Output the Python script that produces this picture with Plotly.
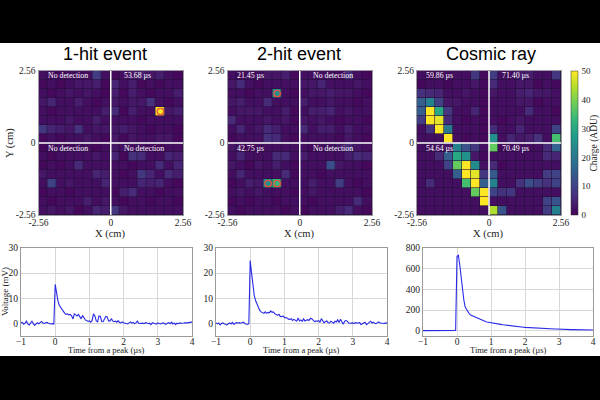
import numpy as np
import plotly.graph_objects as go

# Sixteen-by-sixteen pad charges in ADU, top row first
charge_one_hit = [
    [2, 2, 1, 2, 2, 2, 9, 2, 1, 2, 3, 4, 3, 4, 2, 1],
    [1, 2, 1, 2, 3, 3, 4, 1, 5, 2, 4, 1, 2, 1, 2, 2],
    [2, 1, 2, 3, 2, 3, 2, 1, 4, 1, 4, 2, 1, 2, 2, 4],
    [3, 5, 2, 2, 4, 2, 1, 2, 3, 2, 3, 3, 7, 2, 1, 2],
    [2, 1, 2, 2, 2, 2, 2, 4, 6, 1, 4, 2, 2, 50, 3, 4],
    [2, 2, 2, 3, 2, 2, 4, 2, 2, 2, 2, 1, 2, 2, 2, 2],
    [8, 5, 4, 3, 7, 2, 3, 3, 3, 4, 3, 2, 1, 2, 2, 1],
    [1, 2, 1, 2, 2, 3, 2, 1, 3, 1, 3, 2, 2, 3, 3, 1],
    [1, 2, 2, 1, 2, 2, 1, 2, 3, 2, 2, 2, 1, 1, 2, 2],
    [2, 1, 2, 2, 2, 2, 3, 2, 5, 1, 7, 6, 2, 2, 5, 4],
    [1, 2, 1, 2, 6, 2, 2, 2, 2, 2, 1, 2, 2, 6, 2, 5],
    [3, 2, 2, 2, 2, 2, 5, 4, 2, 1, 2, 8, 5, 2, 6, 4],
    [2, 10, 2, 3, 2, 2, 2, 5, 2, 2, 2, 5, 4, 5, 2, 1],
    [1, 2, 2, 1, 2, 2, 2, 2, 1, 4, 6, 2, 2, 1, 2, 2],
    [2, 1, 2, 2, 2, 4, 2, 3, 2, 1, 2, 2, 1, 2, 2, 1],
    [2, 3, 2, 3, 1, 2, 5, 4, 8, 3, 2, 2, 2, 2, 2, 2],
]
charge_two_hit = [
    [2, 1, 2, 2, 3, 3, 4, 1, 2, 2, 2, 2, 1, 6, 2, 1],
    [3, 6, 2, 1, 2, 2, 2, 2, 3, 3, 5, 2, 2, 2, 3, 2],
    [2, 2, 1, 2, 2, 25, 2, 1, 2, 3, 3, 4, 3, 3, 2, 1],
    [3, 4, 2, 2, 6, 2, 2, 2, 4, 2, 2, 3, 2, 2, 1, 2],
    [2, 3, 3, 3, 2, 2, 4, 1, 2, 4, 4, 5, 2, 3, 2, 2],
    [6, 2, 2, 2, 3, 2, 3, 1, 3, 2, 3, 2, 1, 2, 2, 1],
    [2, 5, 2, 3, 6, 4, 2, 2, 6, 2, 4, 4, 2, 4, 2, 2],
    [1, 2, 2, 2, 7, 6, 2, 1, 2, 2, 2, 2, 1, 3, 2, 1],
    [3, 2, 1, 2, 2, 2, 2, 2, 2, 1, 2, 2, 3, 6, 3, 2],
    [2, 5, 2, 2, 2, 6, 6, 2, 4, 2, 2, 2, 2, 4, 6, 5],
    [3, 2, 1, 3, 2, 4, 2, 1, 2, 2, 2, 12, 3, 2, 2, 1],
    [2, 5, 2, 2, 2, 2, 6, 1, 2, 2, 1, 2, 2, 2, 2, 2],
    [1, 2, 4, 3, 25, 33, 2, 2, 2, 4, 2, 2, 9, 2, 1, 2],
    [2, 3, 2, 3, 2, 2, 2, 1, 2, 3, 2, 2, 2, 2, 2, 1],
    [1, 2, 1, 2, 2, 1, 2, 2, 2, 1, 2, 2, 2, 2, 6, 2],
    [2, 1, 2, 2, 2, 2, 1, 2, 1, 2, 2, 2, 4, 6, 2, 1],
]
charge_cosmic = [
    [2, 1, 2, 2, 2, 2, 8, 1, 9, 2, 2, 4, 4, 2, 2, 8],
    [1, 2, 2, 1, 2, 2, 3, 1, 6, 2, 2, 3, 3, 1, 2, 1],
    [7, 6, 5, 2, 2, 3, 2, 1, 3, 2, 2, 4, 5, 3, 3, 2],
    [15, 22, 10, 3, 3, 2, 2, 1, 2, 2, 2, 3, 3, 1, 2, 2],
    [15, 50, 30, 8, 2, 2, 5, 1, 2, 2, 2, 2, 6, 2, 2, 1],
    [9, 50, 48, 6, 2, 1, 2, 1, 2, 1, 2, 3, 2, 2, 2, 2],
    [2, 7, 50, 20, 2, 2, 2, 1, 6, 2, 2, 5, 2, 2, 2, 10],
    [2, 2, 2, 50, 2, 1, 2, 1, 25, 2, 5, 3, 4, 7, 2, 35],
    [2, 2, 2, 3, 22, 13, 8, 2, 38, 1, 2, 2, 2, 2, 6, 16],
    [2, 2, 6, 15, 30, 25, 3, 1, 2, 2, 2, 2, 2, 2, 6, 5],
    [2, 2, 2, 10, 38, 50, 24, 2, 6, 1, 2, 2, 2, 2, 2, 2],
    [2, 2, 2, 2, 15, 50, 48, 8, 14, 2, 2, 2, 2, 2, 9, 10],
    [2, 6, 2, 2, 2, 35, 50, 15, 22, 2, 2, 7, 12, 9, 7, 10],
    [2, 2, 2, 2, 2, 2, 38, 50, 10, 7, 8, 2, 2, 2, 2, 2],
    [2, 2, 2, 2, 2, 2, 2, 50, 2, 2, 2, 2, 2, 2, 10, 13],
    [2, 2, 2, 2, 2, 2, 2, 2, 44, 13, 2, 2, 2, 2, 9, 22],
]

panel_titles = ["1-hit event", "2-hit event", "Cosmic ray"]
quadrant_labels = [
    ["No detection", "53.68 µs", "No detection", "No detection"],
    ["21.45 µs", "No detection", "42.75 µs", "No detection"],
    ["59.86 µs", "71.40 µs", "54.64 µs", "70.49 µs"],
]
hit_x = [[1.76], [-0.80], []]
hit_y = [[1.12], [1.76], []]
hit2_x = [-1.12, -0.80]
hit2_y = [-1.44, -1.44]

# Waveforms sampled every 0.04 µs; the "before" part ends just ahead of the peak
volt_before_1 = [0.2, 0.4, -0.3, 0.1, 0.9, -0.2, -0.6, 0.2, 0.9, -0.1, -0.8, -0.2, 0.3,
                 -0.1, 0.5, 0.8, 0.2, 0.0, 0.3, 0.4, 0.1, -0.1, -0.2, -0.1, -0.2]
volt_after_1 = [15.5, 12.0, 9.0, 7.2, 6.2, 5.3, 4.8, 4.0, 3.6, 3.8,
                3.4, 3.6, 3.0, 1.8, 3.8, 3.4, 3.0, 3.6, 2.4, 1.8,
                3.2, 2.4, 1.4, 1.2, 0.8, 1.0, 0.5, 1.2, 3.8, 3.0,
                1.0, 0.6, 3.0, 2.8, 0.8, 0.7, 1.6, 2.8, 2.6, 1.0,
                0.9, 1.9, 1.0, 0.7, 0.9, 0.5, 1.1, 0.4, 0.2, 0.6,
                0.3, 0.1, 0.0, -0.2, 0.2, 0.6, 0.1, 0.4, -0.1, 0.2,
                0.9, 0.1, 0.0, 0.2, 0.1, -0.1, 0.3, 0.2, -0.1, 0.1,
                -0.5, 0.3, 0.1, 0.2, -0.3, 0.2, 0.0, -0.2, 0.1, 0.2,
                -0.1, -0.4, 0.1, 0.3, -0.1, 0.5, -0.2, 0.2, -0.5, 0.1,
                -0.1, 0.2, 0.1, 0.0, 0.2, 0.3, 0.1, 0.4, 0.3, 0.6, 0.4]
volt_before_2 = [0.2, -0.2, 0.2, -0.6, 0.0, 0.2, -0.1, -0.3, -0.6, -0.1, 0.2, -0.2, 0.4,
                 -0.3, 0.1, 0.3, 0.2, 0.3, 0.1, 0.4, 0.5, 0.0, -0.2, -0.4, -0.1]
volt_after_2 = [25.0, 20.0, 15.0, 11.0, 9.0, 7.5, 6.2, 5.2, 4.6, 4.3,
                4.0, 4.6, 4.0, 4.4, 4.2, 5.0, 4.4, 4.6, 3.8, 3.6,
                3.2, 3.6, 2.8, 2.7, 3.0, 2.4, 2.3, 2.2, 1.7, 1.6,
                1.9, 1.2, 1.6, 1.2, 0.9, 2.2, 1.0, 1.4, 0.8, 1.8,
                1.0, 1.3, 1.5, 1.2, 2.0, 1.9, 1.4, 0.7, 1.0, 0.8,
                1.2, 0.4, 1.9, 1.0, 0.2, 0.8, 1.0, 0.3, 0.2, 0.9,
                0.4, 0.1, 0.9, 0.6, 1.4, 0.4, 1.7, 0.3, -0.3, 0.8,
                1.2, 0.8, 0.2, 0.1, 0.3, 0.2, -0.1, 0.4, 0.1, 0.2,
                0.3, -0.4, -0.2, 0.2, 0.5, -0.5, 0.1, 0.4, 0.9, 0.2,
                0.5, 0.1, -0.1, 0.3, 0.6, 0.2, 0.1, 0.3, 0.0, 0.2, 0.1]
volt_before_3 = [2, 2, 1, 2, 2, 1, 2, 2, 1, 2, 2, 1, 2,
                 2, 1, 2, 1, 2, 2, 1, 2, 2, 1, 2, 4]
volt_after_3 = [720, 730, 640, 520, 400, 300, 230, 205, 185, 165,
                152, 146, 138, 130, 124, 118, 112, 107, 102, 98,
                94, 90, 86, 83, 80, 78, 76, 73, 71, 69,
                67, 65, 62, 60, 58, 56, 54, 52, 50, 49,
                47, 45, 44, 42, 41, 40, 38, 37, 35, 34,
                33, 32, 30, 29, 28, 28, 27, 26, 26, 25,
                24, 24, 23, 22, 22, 21, 20, 20, 19, 19,
                18, 18, 17, 17, 16, 16, 15, 15, 14, 14,
                14, 13, 13, 13, 12, 12, 12, 11, 11, 11,
                11, 10, 10, 10, 10, 9, 9, 9, 9, 9, 8]

heat_x_ranges = [(38.5, 183), (227.5, 372), (417, 561)]
line_x_ranges = [(21, 192), (216, 387), (423, 593)]
title_centres = [104.5, 299, 491]
heat_y_range = (71, 215)
line_y_range = (248, 336)
CANVAS_W, CANVAS_H = 600, 400

SERIF = "Liberation Serif"
SANS = "Liberation Sans"
SPINE = "#9a9a9a"
INK = "#222"


def xdom(rng):
    return [rng[0] / CANVAS_W, rng[1] / CANVAS_W]


def ydom(rng):
    return [1 - rng[1] / CANVAS_H, 1 - rng[0] / CANVAS_H]


def paper_label(px, py, text, size, family=SERIF, angle=0, color=INK):
    return dict(xref="paper", yref="paper", x=px / CANVAS_W, y=1 - py / CANVAS_H,
                xanchor="center", yanchor="middle", text=text, showarrow=False,
                textangle=angle, font=dict(family=family, size=size, color=color))


edges = np.linspace(-2.56, 2.56, 17)
centres = (edges[:-1] + edges[1:]) / 2

fig = go.Figure()
charges = [charge_one_hit, charge_two_hit, charge_cosmic]
waves = [(volt_before_1, volt_after_1), (volt_before_2, volt_after_2), (volt_before_3, volt_after_3)]
annotations = [
    paper_label(10, 143, "Y (cm)", 10.5, angle=-90),
    paper_label(5, 292, "Voltage (mV)", 9, angle=-90),
    paper_label(594.5, 143, "Charge (ADU)", 9.5, angle=-90),
]
shapes = [dict(type="rect", xref="paper", yref="paper", x0=0, x1=1,
               y0=1 - 356 / CANVAS_H, y1=1 - 43 / CANVAS_H,
               fillcolor="white", line_width=0, layer="below")]
layout_axes = {}

for i in range(3):
    hx, hy = f"x{2 * i + 1}", f"y{2 * i + 1}"
    lx, ly = f"x{2 * i + 2}", f"y{2 * i + 2}"
    # Dark backing so the gaps between pads read as thin grid lines
    shapes.append(dict(type="rect", xref=hx, yref=hy, x0=-2.56, x1=2.56, y0=-2.56, y1=2.56,
                       fillcolor="#240f3c", line_width=0, layer="below"))
    fig.add_trace(go.Heatmap(
        z=charges[i], x=centres, y=centres[::-1], xaxis=hx, yaxis=hy,
        zmin=0, zmax=50, colorscale="Viridis", xgap=0.6, ygap=0.6,
        showscale=i == 2,
        colorbar=dict(
            x=571 / CANVAS_W, xanchor="left", xpad=0, ypad=0,
            y=1 - 215 / CANVAS_H, yanchor="bottom", len=144 / CANVAS_H, lenmode="fraction",
            thickness=7, outlinewidth=0.5, outlinecolor="#333",
            tickvals=[0, 10, 20, 30, 40, 50], ticks="outside", ticklen=2,
            tickcolor="rgba(0,0,0,0)", ticklabelposition="outside",
            tickfont=dict(family=SERIF, size=9, color=INK),
        ) if i == 2 else None,
    ))
    # White quadrant dividers
    fig.add_trace(go.Scatter(x=[0, 0], y=[-2.56, 2.56], mode="lines", xaxis=hx, yaxis=hy,
                             line=dict(color="white", width=1.5), showlegend=False))
    fig.add_trace(go.Scatter(x=[-2.56, 2.56], y=[0, 0], mode="lines", xaxis=hx, yaxis=hy,
                             line=dict(color="white", width=1.5), showlegend=False))
    # Rings around the reconstructed hits
    rx = hit_x[i] + (hit2_x if i == 1 else [])
    ry = hit_y[i] + (hit2_y if i == 1 else [])
    if rx:
        fig.add_trace(go.Scatter(x=rx, y=ry, mode="markers", xaxis=hx, yaxis=hy, showlegend=False,
                                 marker=dict(symbol="circle-open", size=6.5,
                                             color="#f0503c", line=dict(width=1.2, color="#f0503c"))))
    before, after = waves[i]
    t_before = -0.04 * np.arange(len(before), 0, -1)
    t_after = 0.04 * np.arange(len(after))
    fig.add_trace(go.Scatter(x=np.concatenate([t_before, t_after]), y=before + after,
                             mode="lines", xaxis=lx, yaxis=ly, showlegend=False,
                             line=dict(color="#2a2ae6", width=1.1)))

    tick_font = dict(family=SERIF, size=9.5, color=INK)
    layout_axes[f"xaxis{2 * i + 1}"] = dict(
        domain=xdom(heat_x_ranges[i]), anchor=hy, range=[-2.56, 2.56],
        tickvals=[-2.56, 0, 2.56], ticktext=["-2.56", "0", "2.56"], tickfont=tick_font,
        showgrid=False, zeroline=False, showline=True, linecolor=SPINE, linewidth=1, mirror=True,
        ticks="", ticklen=0, ticklabelstandoff=-1)
    layout_axes[f"yaxis{2 * i + 1}"] = dict(
        domain=ydom(heat_y_range), anchor=hx, range=[-2.56, 2.56],
        tickvals=[-2.56, 0, 2.56], ticktext=["-2.56", "0", "2.56"], tickfont=tick_font,
        showgrid=False, zeroline=False, showline=True, linecolor=SPINE, linewidth=1, mirror=True,
        ticks="", ticklen=2)
    y_top = 800 if i == 2 else 30
    y_low = -50 if i == 2 else -5
    y_ticks = [0, 200, 400, 600, 800] if i == 2 else [0, 10, 20, 30]
    layout_axes[f"xaxis{2 * i + 2}"] = dict(
        domain=xdom(line_x_ranges[i]), anchor=ly, range=[-1, 4],
        tickvals=[-1, 0, 1, 2, 3, 4], ticktext=["−1", "0", "1", "2", "3", "4"], tickfont=tick_font,
        showgrid=True, gridcolor="#d8d8d8", gridwidth=1, zeroline=False,
        showline=True, linecolor=SPINE, linewidth=1, mirror=True, ticks="", ticklabelstandoff=-3)
    layout_axes[f"yaxis{2 * i + 2}"] = dict(
        domain=ydom(line_y_range), anchor=lx, range=[y_low, y_top],
        tickvals=y_ticks, tickfont=tick_font,
        showgrid=True, gridcolor="#d8d8d8", gridwidth=1, zeroline=False,
        showline=True, linecolor=SPINE, linewidth=1, mirror=True, ticks="")

    # Panel title and axis captions
    x0, x1 = heat_x_ranges[i]
    annotations.append(paper_label(title_centres[i], 54.5, panel_titles[i], 18,
                                   family=SANS, color="black"))
    annotations.append(paper_label((x0 + x1) / 2, 234, "X (cm)", 10.5))
    lx0, lx1 = line_x_ranges[i]
    annotations.append(paper_label((lx0 + lx1) / 2, 350, "Time from a peak (µs)", 8.5))
    # Quadrant arrival times, left-aligned inside each quadrant
    for k, label in enumerate(quadrant_labels[i]):
        annotations.append(dict(xref=hx, yref=hy, x=-2.31 if k % 2 == 0 else 0.40,
                                y=2.39 if k < 2 else -0.21, xanchor="left", yanchor="middle",
                                text=label, showarrow=False,
                                font=dict(family=SERIF, size=7.8, color="white")))

fig.update_layout(
    width=CANVAS_W, height=CANVAS_H, margin=dict(l=0, r=0, t=0, b=0, autoexpand=False),
    paper_bgcolor="black", plot_bgcolor="white", showlegend=False,
    annotations=annotations, shapes=shapes, **layout_axes,
)
fig.write_html("out.html", config={"displayModeBar": False})
